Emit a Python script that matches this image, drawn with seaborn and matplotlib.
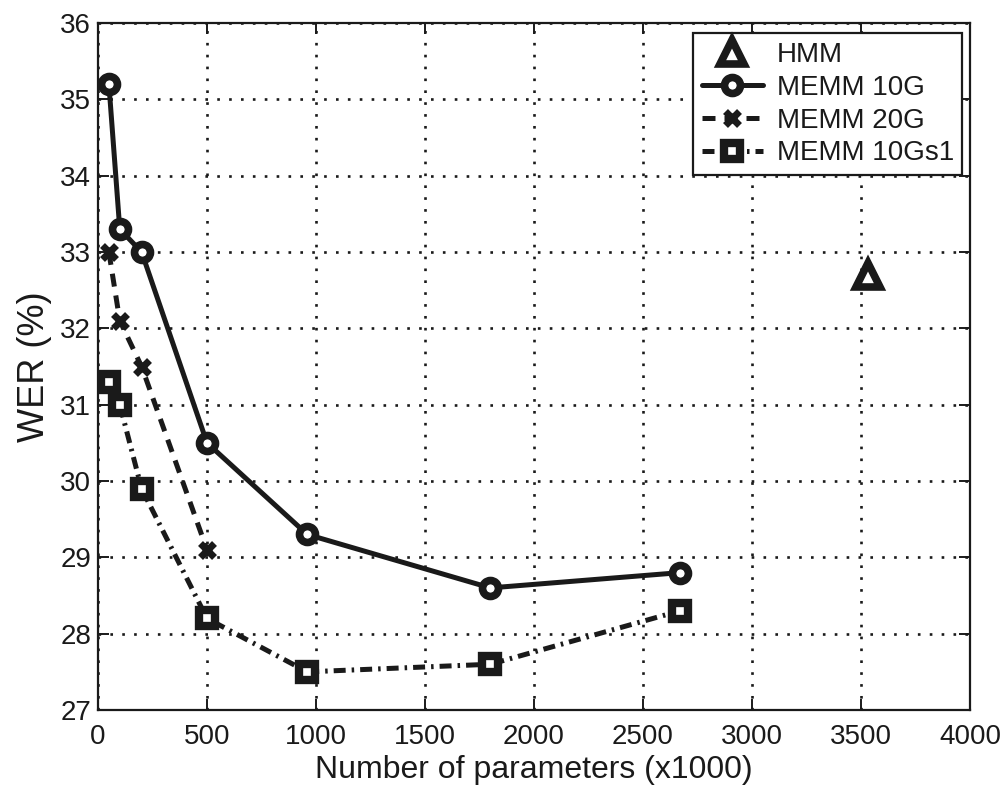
import matplotlib
matplotlib.use("Agg")
import matplotlib.pyplot as plt
import seaborn as sns

# ---- data ----
hmm_x = [3530]
hmm_y = [32.7]

memm10g_x = [50, 100, 200, 500, 960, 1800, 2670]
memm10g_y = [35.2, 33.3, 33.0, 30.5, 29.3, 28.6, 28.8]

memm20g_x = [50, 100, 200, 500]
memm20g_y = [33.0, 32.1, 31.5, 29.1]

memm10gs1_x = [50, 100, 200, 500, 960, 1800, 2670]
memm10gs1_y = [31.3, 31.0, 29.9, 28.2, 27.5, 27.6, 28.3]

xticks = [0, 500, 1000, 1500, 2000, 2500, 3000, 3500, 4000]
yticks = [27, 28, 29, 30, 31, 32, 33, 34, 35, 36]

sns.set_theme(style="white")
plt.rcParams['font.family'] = ['Liberation Sans', 'DejaVu Sans']
plt.rcParams['text.color'] = 'k'
plt.rcParams['axes.labelcolor'] = 'k'
plt.rcParams['xtick.color'] = 'k'
plt.rcParams['ytick.color'] = 'k'

fig = plt.figure(figsize=(10.07, 7.87), dpi=100)
ax = fig.add_axes([0.0973, 0.0978, 0.866, 0.873])

sns.lineplot(x=hmm_x, y=hmm_y, ax=ax, color='k', linestyle='none', marker='^',
             markersize=17, markerfacecolor='white', markeredgecolor='k',
             markeredgewidth=5.5, label='HMM')
sns.lineplot(x=memm10g_x, y=memm10g_y, ax=ax, sort=False, color='k', linestyle='-',
             linewidth=3.6, marker='o', markersize=11.5, markerfacecolor='white',
             markeredgecolor='k', markeredgewidth=5.5, label='MEMM 10G')
sns.lineplot(x=memm20g_x, y=memm20g_y, ax=ax, sort=False, color='k', linestyle=(0, (2.6, 1.8)),
             linewidth=3.6, marker='x', markersize=10, markeredgewidth=5,
             markeredgecolor='k', label='MEMM 20G')
sns.lineplot(x=memm10gs1_x, y=memm10gs1_y, ax=ax, sort=False, color='k',
             linestyle=(0, (2.4, 1.2, 0.5, 1.2)), linewidth=3.6, marker='s', markersize=11,
             markerfacecolor='white', markeredgecolor='k', markeredgewidth=6,
             label='MEMM 10Gs1')

ax.set_xlim(0, 4000)
ax.set_ylim(27, 36)
ax.set_xticks(xticks)
ax.set_yticks(yticks)
ax.set_xticklabels([str(v) for v in xticks], fontsize=20)
ax.set_yticklabels([str(v) for v in yticks], fontsize=20)
ax.tick_params(axis='x', pad=10)
ax.tick_params(axis='y', pad=5)
ax.tick_params(direction='in', length=8, width=1.4, top=True, right=True,
               bottom=True, left=True, colors='k')
ax.grid(True, color='k', linestyle=(0, (1, 3.5)), linewidth=1.9)
for s in ax.spines.values():
    s.set_visible(True)
    s.set_color('k')
    s.set_linewidth(1.6)

ax.set_xlabel('Number of parameters (x1000)', fontsize=23, labelpad=4)
ax.set_ylabel('WER (%)', fontsize=26, labelpad=6)

leg = ax.legend(loc='upper right', bbox_to_anchor=(0.991, 0.985), borderaxespad=0,
                fontsize=20, frameon=True, fancybox=False, framealpha=1,
                handlelength=2.2, handletextpad=0.5, labelspacing=0.25,
                borderpad=0.3)
leg.get_frame().set_edgecolor('k')
leg.get_frame().set_linewidth(1.6)

fig.savefig('out.png', dpi=100)
